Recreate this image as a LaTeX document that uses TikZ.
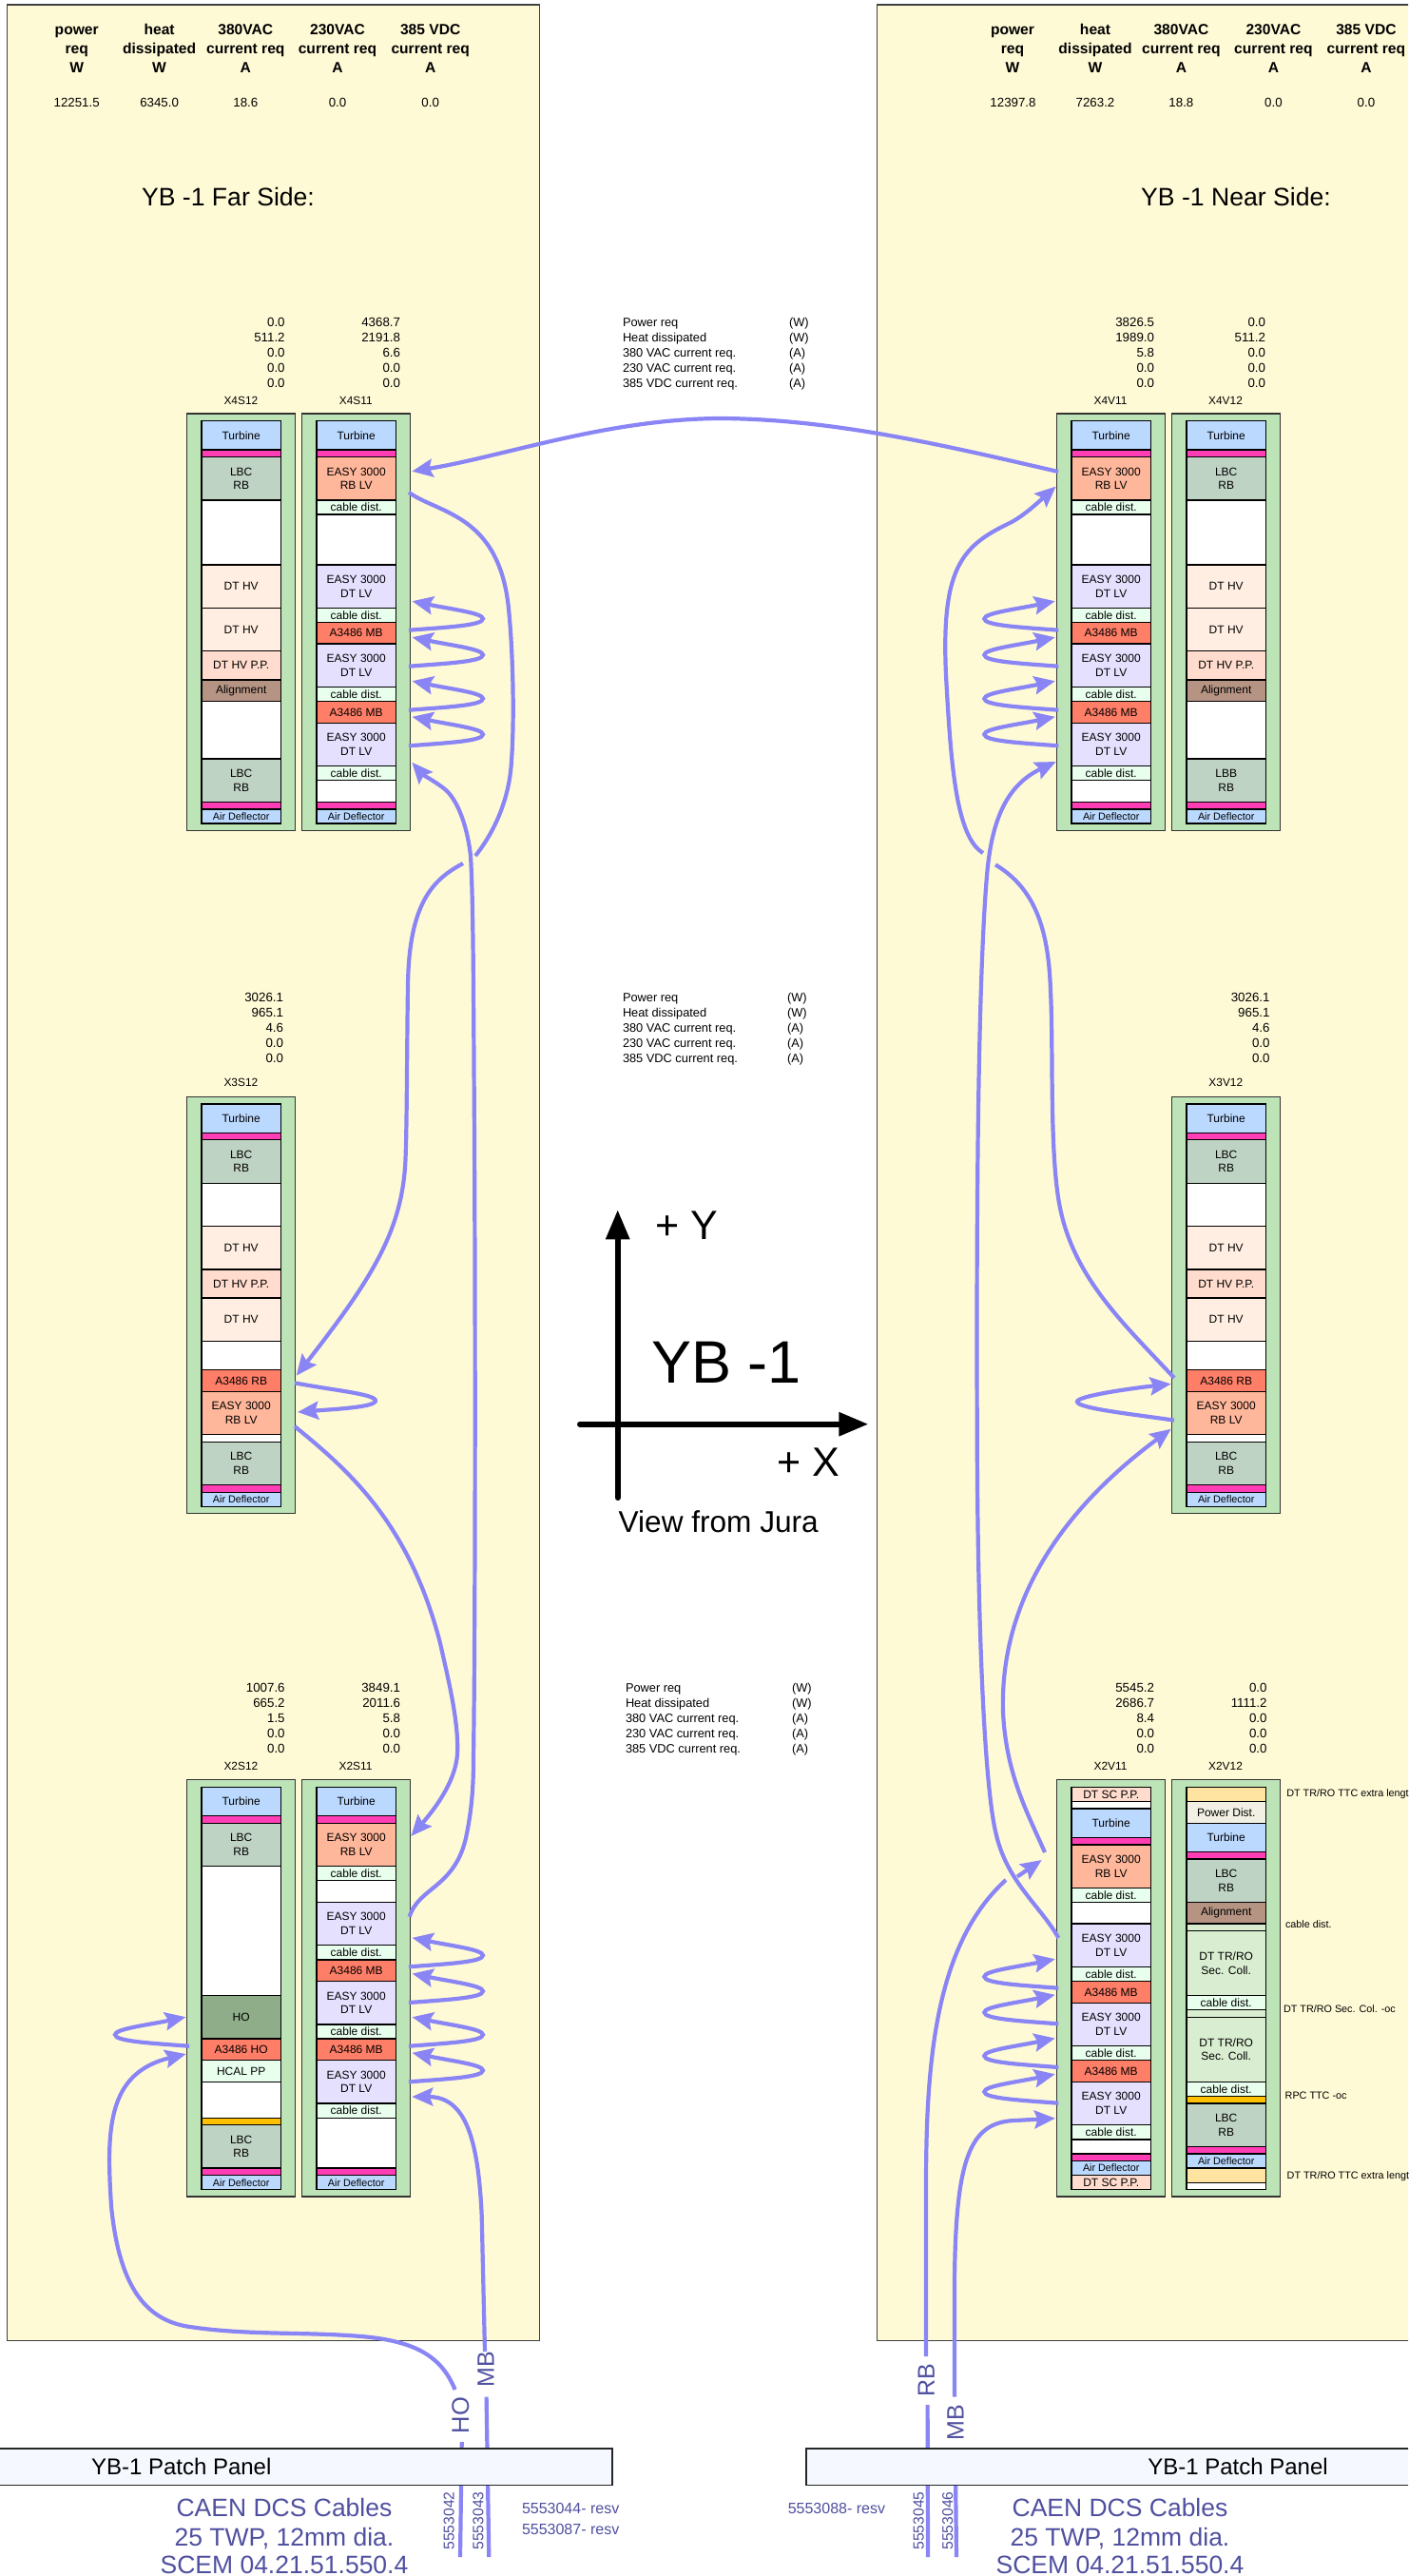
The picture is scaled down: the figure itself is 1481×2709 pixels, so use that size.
\documentclass[tikz,border=0pt]{standalone}
\usepackage{fontspec}
\setmainfont{Liberation Sans}
\usetikzlibrary{arrows.meta}
\definecolor{panelc}{HTML}{FFFAD6}
\definecolor{rackc}{HTML}{BCE4B6}
\definecolor{turbc}{HTML}{BBD9FF}
\definecolor{magc}{HTML}{FF3DB4}
\definecolor{lbcc}{HTML}{BFD3C4}
\definecolor{hvc}{HTML}{FFEEE1}
\definecolor{ppc}{HTML}{FFDCCD}
\definecolor{algc}{HTML}{B69484}
\definecolor{rblvc}{HTML}{FFB79B}
\definecolor{cabc}{HTML}{E8FFEE}
\definecolor{dtlvc}{HTML}{E6E0FF}
\definecolor{a34c}{HTML}{FF7E67}
\definecolor{hoc}{HTML}{8FAD88}
\definecolor{oranc}{HTML}{FFC000}
\definecolor{tanc}{HTML}{FFE3A0}
\definecolor{pwrc}{HTML}{F2F0E4}
\definecolor{troc}{HTML}{D9EED1}
\definecolor{cablec}{HTML}{8A85F5}
\definecolor{bluetxt}{HTML}{5050A0}
\definecolor{patchc}{HTML}{F5F9FF}
\newcounter{tcnt}
% \tx[opts]{x}{y of glyph centre}{font size}{text}
\newcommand{\tx}[5][anchor=base]{%
  \stepcounter{tcnt}%
  \node[plaintext,#1,font=\fontsize{#4}{#4}\selectfont] (t\arabic{tcnt}) at (#2,{#3+0.36*#4}) {#5};}
% five right-aligned values
\newcommand{\valcol}[7]{%
  \tx[anchor=base east]{#1}{#2}{13.3}{#3}%
  \tx[anchor=base east]{#1}{#2+16}{13.3}{#4}%
  \tx[anchor=base east]{#1}{#2+32}{13.3}{#5}%
  \tx[anchor=base east]{#1}{#2+48}{13.3}{#6}%
  \tx[anchor=base east]{#1}{#2+64}{13.3}{#7}}
\newcommand{\infoblock}[3]{%
  \tx[anchor=base west]{#1}{#3}{12.8}{Power req}\tx[anchor=base west]{#2}{#3}{12.8}{(W)}%
  \tx[anchor=base west]{#1}{#3+16}{12.8}{Heat dissipated}\tx[anchor=base west]{#2}{#3+16}{12.8}{(W)}%
  \tx[anchor=base west]{#1}{#3+32}{12.8}{380 VAC current req.}\tx[anchor=base west]{#2}{#3+32}{12.8}{(A)}%
  \tx[anchor=base west]{#1}{#3+48}{12.8}{230 VAC current req.}\tx[anchor=base west]{#2}{#3+48}{12.8}{(A)}%
  \tx[anchor=base west]{#1}{#3+64}{12.8}{385 VDC current req.}\tx[anchor=base west]{#2}{#3+64}{12.8}{(A)}}
\newcommand{\hdr}[4]{%
  \tx{#1}{30.7}{15.6}{\bfseries #2}\tx{#1}{50.7}{15.6}{\bfseries #3}\tx{#1}{70.7}{15.6}{\bfseries #4}}
% rack: name, x, y, slots
\newcommand{\rack}[4]{%
  \node[rackbox,anchor=north west] (#1) at (#2,#3) {};
  \xdef\curY{\fpeval{#3+7.7}}%
  \foreach \sh/\sc/\st [count=\si] in {#4} {
    \node[slotbox,\sc,minimum height=\sh*15.12pt,anchor=north] (#1-\si) at ({#2+57},\curY) {\st};
    \pgfmathparse{\curY+\sh*15.12}\xdef\curY{\pgfmathresult}
  }}
\newcommand{\loopE}[3]{%
  \coordinate (#1s) at (#2,#3);
  \coordinate (#1t) at ({#2+3.5},{#3-30.5});
  \draw[cablearrow] (#1s) .. controls ({#2+40},{#3-3}) and ({#2+78},{#3-5}) .. ({#2+78},{#3-12})
    .. controls ({#2+78},{#3-18}) and ({#2+45},{#3-22}) .. (#1t);}
\newcommand{\loopW}[3]{%
  \coordinate (#1s) at (#2,#3);
  \coordinate (#1t) at ({#2-3.5},{#3-30.5});
  \draw[cablearrow] (#1s) .. controls ({#2-40},{#3-3}) and ({#2-78},{#3-5}) .. ({#2-78},{#3-12})
    .. controls ({#2-78},{#3-18}) and ({#2-45},{#3-22}) .. (#1t);}
\newcommand{\trrotxt}{DT TR/RO\\Sec. Coll.}
\tikzset{
  x=1pt,y=-1pt,
  plaintext/.style={inner sep=0pt,outer sep=0pt},
  panelbox/.style={draw=black!75,line width=1.5pt,fill=panelc},
  rackbox/.style={draw=black!80,line width=1.3pt,fill=rackc,minimum width=113.7pt,minimum height=438.3pt,inner sep=0pt,outer sep=0pt},
  slotbox/.style={draw=black,line width=1.3pt,minimum width=83.7pt,inner sep=0pt,outer sep=0pt,align=center,font=\fontsize{12}{14.6}\selectfont},
  sturb/.style={fill=turbc},
  smag/.style={fill=magc},
  slbc/.style={fill=lbcc},
  swhi/.style={fill=white},
  shv/.style={fill=hvc},
  spp/.style={fill=ppc},
  salg/.style={fill=algc},
  srb/.style={fill=rblvc},
  scab/.style={fill=cabc},
  sdt/.style={fill=dtlvc},
  sa34/.style={fill=a34c},
  sho/.style={fill=hoc},
  sora/.style={fill=oranc},
  stan/.style={fill=tanc},
  spwr/.style={fill=pwrc},
  stro/.style={fill=troc},
  sair/.style={fill=turbc,font=\fontsize{10.8}{12}\selectfont},
  cableline/.style={draw=cablec,line width=4.2pt},
  cablearrow/.style={cableline,-{Stealth[length=22pt,width=19pt,inset=3.5pt]}},
  axisline/.style={draw=black,line width=6pt,line cap=round,-{Triangle[length=31pt,width=24pt]}},
  patchbox/.style={draw=black!85,line width=1.5pt,fill=patchc},
}
\begin{document}
\begin{tikzpicture}
\useasboundingbox (0,0) rectangle (1481,2709);
\clip (0,0) rectangle (1481,2709);
\fill[white] (0,0) rectangle (1481,2709);
% panels
\draw[panelbox] (7.7,5) rectangle (567.6,2461.7);
\draw[panelbox] (922.3,5) rectangle (1495,2461.7);
% headers
\hdr{80.7}{power}{req}{W}
\hdr{167.6}{heat}{dissipated}{W}
\hdr{258.3}{380VAC}{current req}{A}
\hdr{355}{230VAC}{current req}{A}
\hdr{452.7}{385 VDC}{current req}{A}
\tx{80.7}{107.3}{13.3}{12251.5}
\tx{167.6}{107.3}{13.3}{6345.0}
\tx{258.3}{107.3}{13.3}{18.6}
\tx{355}{107.3}{13.3}{0.0}
\tx{452.7}{107.3}{13.3}{0.0}
\hdr{1065}{power}{req}{W}
\hdr{1152}{heat}{dissipated}{W}
\hdr{1242.4}{380VAC}{current req}{A}
\hdr{1339.4}{230VAC}{current req}{A}
\hdr{1436.9}{385 VDC}{current req}{A}
\tx{1065.5}{107.3}{13.3}{12397.8}
\tx{1152}{107.3}{13.3}{7263.2}
\tx{1242.4}{107.3}{13.3}{18.8}
\tx{1339.4}{107.3}{13.3}{0.0}
\tx{1436.9}{107.3}{13.3}{0.0}
\tx{240}{206.7}{26.6}{YB -1 Far Side:}
\tx{1300}{206.7}{26.6}{YB -1 Near Side:}
% values
\valcol{299.6}{338.7}{0.0}{511.2}{0.0}{0.0}{0.0}
\valcol{421}{338.7}{4368.7}{2191.8}{6.6}{0.0}{0.0}
\valcol{1214}{338.7}{3826.5}{1989.0}{5.8}{0.0}{0.0}
\valcol{1331}{338.7}{0.0}{511.2}{0.0}{0.0}{0.0}
\valcol{298}{1049}{3026.1}{965.1}{4.6}{0.0}{0.0}
\valcol{1335.5}{1049}{3026.1}{965.1}{4.6}{0.0}{0.0}
\valcol{299.6}{1775}{1007.6}{665.2}{1.5}{0.0}{0.0}
\valcol{421}{1775}{3849.1}{2011.6}{5.8}{0.0}{0.0}
\valcol{1214}{1775}{5545.2}{2686.7}{8.4}{0.0}{0.0}
\valcol{1332.5}{1775}{0.0}{1111.2}{0.0}{0.0}{0.0}
\infoblock{655}{830}{338.7}
\infoblock{655}{828}{1049}
\infoblock{658}{833}{1775}
% rack labels
\tx{253.4}{421.5}{11.9}{X4S12}
\tx{374.3}{421}{11.9}{X4S11}
\tx{1168}{421}{11.9}{X4V11}
\tx{1289}{421}{11.9}{X4V12}
\tx{253.4}{1138.7}{11.9}{X3S12}
\tx{1289.3}{1138.7}{11.9}{X3V12}
\tx{253.4}{1856.7}{11.9}{X2S12}
\tx{374}{1856.7}{11.9}{X2S11}
\tx{1168}{1856.7}{11.9}{X2V11}
\tx{1289}{1856.7}{11.9}{X2V12}
% racks
\rack{X4S12}{196.7}{435}{2/sturb/Turbine,0.5/smag/,3/slbc/LBC\\RB,4.5/swhi/,3/shv/DT HV,3/shv/DT HV,2/spp/DT HV P.P.,1.5/salg/Alignment,4/swhi/,3/slbc/LBC\\RB,0.5/smag/,1/sair/Air Deflector}
\rack{X4S11}{317.7}{435}{2/sturb/Turbine,0.5/smag/,3/srb/EASY 3000\\RB LV,1/scab/cable dist.,3.5/swhi/,3/sdt/EASY 3000\\DT LV,1/scab/cable dist.,1.5/sa34/A3486 MB,3/sdt/EASY 3000\\DT LV,1/scab/cable dist.,1.5/sa34/A3486 MB,3/sdt/EASY 3000\\DT LV,1/scab/cable dist.,1.5/swhi/,0.5/smag/,1/sair/Air Deflector}
\rack{X4V11}{1111.7}{435}{2/sturb/Turbine,0.5/smag/,3/srb/EASY 3000\\RB LV,1/scab/cable dist.,3.5/swhi/,3/sdt/EASY 3000\\DT LV,1/scab/cable dist.,1.5/sa34/A3486 MB,3/sdt/EASY 3000\\DT LV,1/scab/cable dist.,1.5/sa34/A3486 MB,3/sdt/EASY 3000\\DT LV,1/scab/cable dist.,1.5/swhi/,0.5/smag/,1/sair/Air Deflector}
\rack{X4V12}{1232.7}{435}{2/sturb/Turbine,0.5/smag/,3/slbc/LBC\\RB,4.5/swhi/,3/shv/DT HV,3/shv/DT HV,2/spp/DT HV P.P.,1.5/salg/Alignment,4/swhi/,3/slbc/LBB\\RB,0.5/smag/,1/sair/Air Deflector}
\rack{X3S12}{196.7}{1153.3}{2/sturb/Turbine,0.5/smag/,3/slbc/LBC\\RB,3/swhi/,3/shv/DT HV,2/spp/DT HV P.P.,3/shv/DT HV,2/swhi/,1.5/sa34/A3486 RB,3/srb/EASY 3000\\RB LV,0.5/swhi/,3/slbc/LBC\\RB,0.5/smag/,1/sair/Air Deflector}
\rack{X3V12}{1232.7}{1153.3}{2/sturb/Turbine,0.5/smag/,3/slbc/LBC\\RB,3/swhi/,3/shv/DT HV,2/spp/DT HV P.P.,3/shv/DT HV,2/swhi/,1.5/sa34/A3486 RB,3/srb/EASY 3000\\RB LV,0.5/swhi/,3/slbc/LBC\\RB,0.5/smag/,1/sair/Air Deflector}
\rack{X2S12}{196.7}{1871.7}{2/sturb/Turbine,0.5/smag/,3/slbc/LBC\\RB,9/swhi/,3/sho/HO,1.5/sa34/A3486 HO,1.5/scab/HCAL PP,2.5/swhi/,0.5/sora/,3/slbc/LBC\\RB,0.5/smag/,1/sair/Air Deflector}
\rack{X2S11}{317.7}{1871.7}{2/sturb/Turbine,0.5/smag/,3/srb/EASY 3000\\RB LV,1/scab/cable dist.,1.5/swhi/,3/sdt/EASY 3000\\DT LV,1/scab/cable dist.,1.5/sa34/A3486 MB,3/sdt/EASY 3000\\DT LV,1/scab/cable dist.,1.5/sa34/A3486 MB,3/sdt/EASY 3000\\DT LV,1/scab/cable dist.,3.5/swhi/,0.5/smag/,1/sair/Air Deflector}
\rack{X2V11}{1111.7}{1871.7}{1/spp/DT SC P.P.,0.5/swhi/,2/sturb/Turbine,0.5/smag/,3/srb/EASY 3000\\RB LV,1/scab/cable dist.,1.5/swhi/,3/sdt/EASY 3000\\DT LV,1/scab/cable dist.,1.5/sa34/A3486 MB,3/sdt/EASY 3000\\DT LV,1/scab/cable dist.,1.5/sa34/A3486 MB,3/sdt/EASY 3000\\DT LV,1/scab/cable dist.,1/swhi/,0.5/smag/,1/sair/Air Deflector,1/spp/DT SC P.P.}
\rack{X2V12}{1232.7}{1871.7}{1/stan/,1.5/spwr/Power Dist.,2/sturb/Turbine,0.5/smag/,3/slbc/LBC\\RB,1.5/salg/Alignment,0.5/stro/,4.5/stro/\trrotxt,1/scab/cable dist.,0.5/stro/,4.5/stro/\trrotxt,1/scab/cable dist.,0.5/sora/,3/slbc/LBC\\RB,0.5/smag/,1/sair/Air Deflector,1/stan/,0.5/swhi/}
% side notes
\tx[anchor=base west]{1353.3}{1886}{10.8}{DT TR/RO TTC extra lengt}
\tx[anchor=base west]{1352}{2024}{10.8}{cable dist.}
\tx[anchor=base west]{1350}{2113}{10.8}{DT TR/RO Sec. Col. -oc}
\tx[anchor=base west]{1351.7}{2204}{10.8}{RPC TTC -oc}
\tx[anchor=base west]{1353.7}{2288}{10.8}{DT TR/RO TTC extra lengt}
% axes
\coordinate (yA) at (649.7,1575); \coordinate (yB) at (649.7,1272.3);
\coordinate (xA) at (610,1497.7); \coordinate (xB) at (913.3,1497.7);
\draw[axisline] (yA) -- (yB);
\draw[axisline] (xA) -- (xB);
\tx[anchor=base west]{689}{1287.7}{43}{+ Y}
\tx[anchor=base west]{685}{1431.7}{63}{YB -1}
\tx[anchor=base west]{817}{1536.7}{43}{+ X}
\tx[anchor=base west]{650.7}{1600}{31.6}{View from Jura}
% small loops
\loopE{a1}{430}{662.7}\loopE{a2}{430}{700.7}\loopE{a3}{430}{746.7}\loopE{a4}{430}{784.3}
\loopE{b1}{430}{2068.3}\loopE{b2}{430}{2106}\loopE{b3}{430}{2151.7}\loopE{b4}{430}{2189.3}
\loopW{c1}{1113.3}{662.7}\loopW{c2}{1113.3}{700.7}\loopW{c3}{1113.3}{746.7}\loopW{c4}{1113.3}{784.3}
\loopW{d1}{1113.3}{2090.7}\loopW{d2}{1113.3}{2128.3}\loopW{d3}{1113.3}{2174}\loopW{d4}{1113.3}{2211.7}
\loopW{e1}{199}{2151.7}
\coordinate (f1) at (310,1454.3); \coordinate (f2) at (313,1485);
\draw[cablearrow] (f1) .. controls (350,1462) and (395,1466) .. (395,1473) .. controls (395,1480) and (350,1482) .. (f2);
\coordinate (g1) at (1235,1493.6); \coordinate (g2) at (1231.7,1455.4);
\draw[cablearrow] (g1) .. controls (1190,1487) and (1133,1481) .. (1133,1474) .. controls (1133,1468) and (1190,1460) .. (g2);
% long cables
\coordinate (topA) at (1113,496); \coordinate (topB) at (433.3,495.7);
\draw[cablearrow] (topA) .. controls (1000,470) and (880,441) .. (760,440) .. controls (640,440) and (530,480) .. (topB);
\coordinate (cA0) at (430,517.7); \coordinate (cA1) at (500,900);
\draw[cableline] (cA0) .. controls (460,540) and (525,540) .. (535,640) .. controls (540,690) and (541,760) .. (538,800) .. controls (536,840) and (520,875) .. (cA1);
\coordinate (cA2) at (487,908); \coordinate (cA3) at (311.7,1446.7);
\draw[cablearrow] (cA2) .. controls (455,925) and (430,950) .. (429,1037) .. controls (428,1100) and (428,1180) .. (426.7,1213) .. controls (425,1290) and (395,1340) .. (cA3);
\coordinate (cB0) at (310,1500); \coordinate (cB1) at (432.3,1931);
\draw[cablearrow] (cB0) .. controls (365,1545) and (430,1600) .. (463,1728) .. controls (470,1760) and (483,1810) .. (481,1845) .. controls (479,1875) and (455,1905) .. (cB1);
\coordinate (cC0) at (430.7,2015.7); \coordinate (cC1) at (433.3,801.7);
\draw[cablearrow] (cC0) .. controls (440,1985) and (478,1985) .. (490,1933) .. controls (496,1905) and (498,1880) .. (498,1850) .. controls (500,1700) and (500,1400) .. (499,1200) .. controls (498,1050) and (498,950) .. (495,900) .. controls (491,865) and (480,840) .. (468,830) .. controls (458,822) and (445,815) .. (cC1);
\coordinate (hoA) at (485.7,2568); \coordinate (hoB) at (484,2689);
\draw[cableline] (hoA) -- (hoB);
\coordinate (hoC) at (478.6,2513); \coordinate (hoD) at (195.7,2160);
\draw[cablearrow] (hoC) .. controls (465,2480) and (440,2462) .. (380,2457) .. controls (320,2452) and (260,2456) .. (200,2447) .. controls (150,2440) and (125,2400) .. (117,2320) .. controls (112,2240) and (112,2180) .. (hoD);
\coordinate (mbA) at (511.6,2520.7); \coordinate (mbB) at (514.3,2689);
\draw[cableline] (mbA) -- (mbB);
\coordinate (mbC) at (510,2473); \coordinate (mbD) at (433.3,2205);
\draw[cablearrow] (mbC) -- (506.7,2330) .. controls (503,2250) and (490,2205) .. (mbD);
\coordinate (rbA) at (975.6,2529); \coordinate (rbB) at (976,2689);
\draw[cableline] (rbA) -- (rbB);
\coordinate (rbC) at (974,2478); \coordinate (rbD) at (1058,1977);
\draw[cableline] (rbC) -- (974,2300) .. controls (974,2170) and (983,2045) .. (rbD);
\coordinate (rbE) at (1070,1973.5); \coordinate (rbF) at (1095.7,1956);
\draw[cablearrow] (rbE) -- (rbF);
\coordinate (mb2A) at (1005,2600); \coordinate (mb2B) at (1006,2689);
\draw[cableline] (mb2A) -- (mb2B);
\coordinate (mb2C) at (1004,2520.7); \coordinate (mb2D) at (1110,2227.7);
\draw[cablearrow] (mb2C) -- (1004,2400) .. controls (1005,2270) and (1020,2232) .. (1066.7,2230) -- (mb2D);
\coordinate (nA) at (1113.3,2038); \coordinate (nB) at (1110.7,801);
\draw[cablearrow] (nA) .. controls (1095,2005) and (1060,1980) .. (1048,1930) .. controls (1035,1880) and (1028,1700) .. (1027.7,1500) .. controls (1027,1300) and (1028,1040) .. (1038,921) .. controls (1043,860) and (1060,825) .. (nB);
\coordinate (oA) at (1099,1948); \coordinate (oB) at (1231.7,1502.7);
\draw[cablearrow] (oA) .. controls (1080,1905) and (1058,1865) .. (1055,1800) .. controls (1052,1700) and (1100,1600) .. (oB);
\coordinate (pA) at (1235,1449); \coordinate (pB) at (1047,909.4);
\draw[cableline] (pA) .. controls (1180,1390) and (1125,1340) .. (1113,1259) .. controls (1104,1200) and (1108,1100) .. (1105,1042) .. controls (1103,980) and (1090,935) .. (pB);
\coordinate (qA) at (1034,897); \coordinate (qB) at (1110.7,511.5);
\draw[cablearrow] (qA) .. controls (1005,880) and (1000,800) .. (995,710) .. controls (990,600) and (1010,575) .. (1060,551) .. controls (1075,544) and (1090,530) .. (qB);
% patch panels
\node[patchbox,anchor=north west,minimum width=660pt,minimum height=38.4pt,inner sep=0pt] (ppL) at (-17,2574.3) {};
\node[patchbox,anchor=north west,minimum width=660pt,minimum height=38.4pt,inner sep=0pt] (ppR) at (847,2574.3) {};
\tx[anchor=base west]{96}{2594.3}{24}{YB-1 Patch Panel}
\tx[anchor=base west]{1207.3}{2594.3}{24}{YB-1 Patch Panel}
% cable labels
\tx{299}{2636.7}{26.5}{\color{bluetxt}CAEN DCS Cables}
\tx{299}{2668}{26.5}{\color{bluetxt}25 TWP, 12mm dia.}
\tx{299}{2697}{26.5}{\color{bluetxt}SCEM 04.21.51.550.4}
\tx{1178}{2636.7}{26.5}{\color{bluetxt}CAEN DCS Cables}
\tx{1178}{2668}{26.5}{\color{bluetxt}25 TWP, 12mm dia.}
\tx{1178}{2697}{26.5}{\color{bluetxt}SCEM 04.21.51.550.4}
\tx[anchor=base west]{549}{2637.7}{16}{\color{bluetxt}5553044- resv}
\tx[anchor=base west]{549}{2659.3}{16}{\color{bluetxt}5553087- resv}
\tx[anchor=base west]{828.8}{2637.7}{16}{\color{bluetxt}5553088- resv}
\node[plaintext,rotate=90,text=bluetxt,font=\fontsize{15.7}{16}\selectfont] (n42) at (472.3,2651) {5553042};
\node[plaintext,rotate=90,text=bluetxt,font=\fontsize{15.7}{16}\selectfont] (n43) at (503,2651) {5553043};
\node[plaintext,rotate=90,text=bluetxt,font=\fontsize{15.7}{16}\selectfont] (n45) at (966.3,2651) {5553045};
\node[plaintext,rotate=90,text=bluetxt,font=\fontsize{15.7}{16}\selectfont] (n46) at (996.6,2651) {5553046};
\node[plaintext,rotate=90,text=bluetxt,font=\fontsize{25.5}{26}\selectfont] (lHO) at (484.4,2540) {HO};
\node[plaintext,rotate=90,text=bluetxt,font=\fontsize{25}{26}\selectfont] (lMB) at (511,2492) {MB};
\node[plaintext,rotate=90,text=bluetxt,font=\fontsize{25}{26}\selectfont] (lRB) at (974.3,2503) {RB};
\node[plaintext,rotate=90,text=bluetxt,font=\fontsize{25}{26}\selectfont] (lMB2) at (1005,2548) {MB};
\end{tikzpicture}
\end{document}
